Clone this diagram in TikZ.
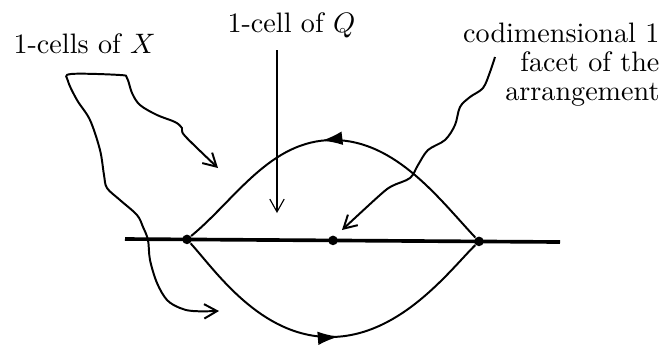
\documentclass[tikz,border=0pt]{standalone}
\usepackage{amsmath,amssymb}
\usepackage{tikz}
\usetikzlibrary{arrows.meta,decorations.markings}

\begin{document}
\begin{tikzpicture}[x=0.0125cm,y=-0.0125cm,>={Straight Barb[length=1.6mm,width=1.8mm]},
  vertex/.style={circle,fill,inner sep=0pt,minimum size=1.2mm},
  wire/.style={line width=0.7pt},
  midarrow/.style={postaction={decorate},decoration={markings,
    mark=at position #1 with {\arrow{Latex[length=2.6mm,width=1.7mm]}}}}]
\useasboundingbox (0,0) rectangle (664,344);
% the hyperplane and its three points
\coordinate (west) at (125,239);
\coordinate (east) at (560,242);
\draw[line width=1.3pt] (west) -- (east);
\node (a) [vertex] at (187,239.4) {};
\node (b) [vertex] at (333,240.4) {};
\node (c) [vertex] at (479,241.4) {};
\draw[wire,midarrow=0.535] (c) .. controls (440,200) and (396,140) .. (333,140)
  .. controls (270,140) and (235,200) .. (a);
\draw[wire,midarrow=0.52] (a) .. controls (215,270) and (260,337) .. (330,337)
  .. controls (400,337) and (450,270) .. (c);
% labels
\node (lx) [anchor=base west,inner sep=0pt] at (13,53) {1-cells of $X$};
\node (lq) [anchor=base west,inner sep=0pt] at (227,32) {1-cell of $Q$};
\node (lf) [anchor=north east,inner sep=0pt,align=right,
  font={\fontsize{10}{10.3}\selectfont}] at (660,22) {codimensional 1\\ facet of the\\ arrangement};
% pointers
\coordinate (xup) at (218,168);
\coordinate (xlow) at (219,311);
\draw[<->,wire] plot[smooth,tension=0.55] coordinates{(xlow) (193,311) (180,308)
  (167,300) (157,283) (150,260) (148,240) (143,227) (137,215) (120,200) (107,188)
  (104,175) (100,150) (90,120) (77,100) (68,81) (71,74) (120,75) (127,78) (132,93)
  (140,105) (157,115) (175,122) (182,128) (185,136) (xup)};
\coordinate (qtop) at (277,50);
\coordinate (qtip) at (277,213);
\draw[->,thin] (qtop) -- (qtip);
\coordinate (fup) at (495,57);
\coordinate (ftip) at (342,230);
\draw[->,wire] plot[smooth,tension=0.55] coordinates{(fup) (490,72) (483,88)
  (470,97) (460,107) (455,125) (445,140) (428,150) (418,165) (410,178) (392,186)
  (380,195) (ftip)};
\end{tikzpicture}
\end{document}
